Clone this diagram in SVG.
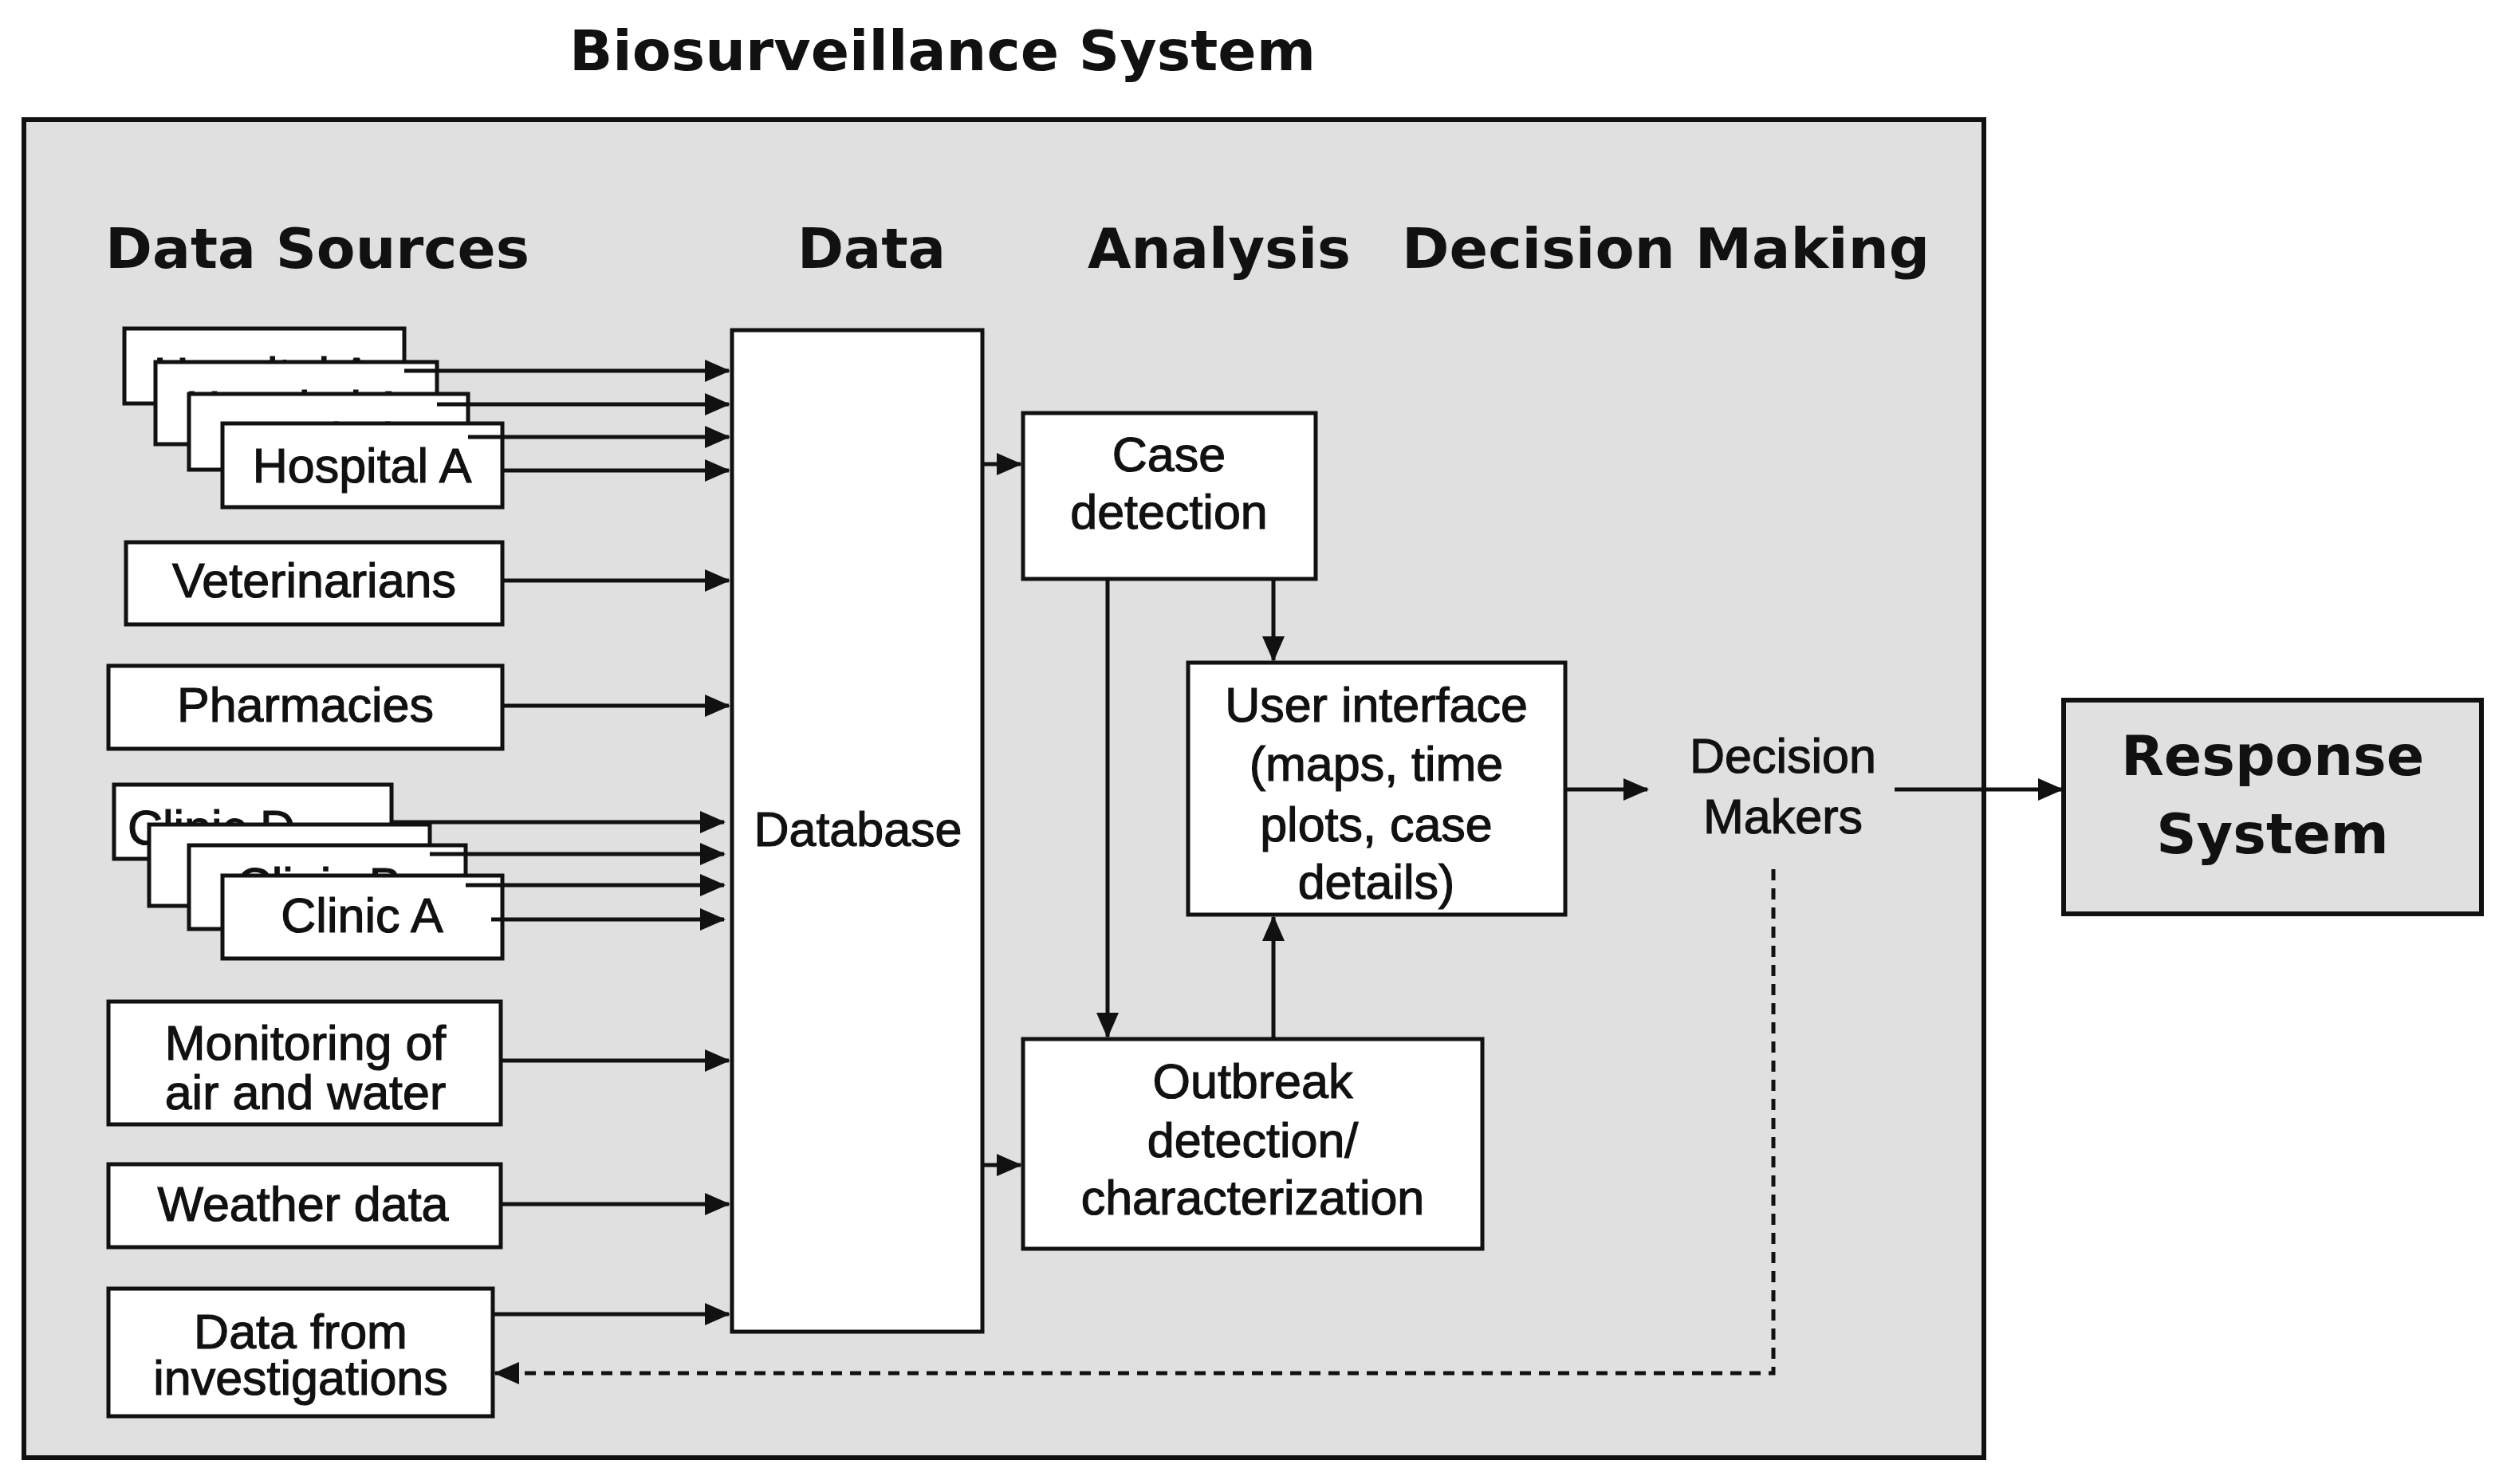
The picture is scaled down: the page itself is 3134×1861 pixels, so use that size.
<svg xmlns="http://www.w3.org/2000/svg" width="3134" height="1861" viewBox="0 0 3134 1861">
<style>
.b{fill:#fff;stroke:#111;stroke-width:5}
.t{font-family:"Liberation Sans",Arial,sans-serif;font-size:61px;fill:#111;stroke:#111;stroke-width:1.2;text-anchor:middle;dominant-baseline:central}
.h{font-family:"DejaVu Sans",Verdana,sans-serif;font-weight:bold;font-size:70px;fill:#111;dominant-baseline:central}
.c{stroke:#111;stroke-width:5;fill:none}
</style>
<defs>
<marker id="a" markerUnits="userSpaceOnUse" markerWidth="32" markerHeight="28" refX="30" refY="14" orient="auto"><path d="M0,0L32,14L0,28z" fill="#111"/></marker>
</defs>
<rect x="0" y="0" width="3134" height="1861" fill="#fff"/>
<text class="h" x="714" y="64" textLength="936" lengthAdjust="spacingAndGlyphs">Biosurveillance System</text>
<rect x="30" y="150" width="2458" height="1678" fill="#e0e0e0" stroke="#111" stroke-width="6"/>
<g id="headers">
<text class="h" x="132" y="312" textLength="532" lengthAdjust="spacingAndGlyphs">Data Sources</text>
<text class="h" x="1000" y="312" textLength="186" lengthAdjust="spacingAndGlyphs">Data</text>
<text class="h" x="1364" y="312" textLength="330" lengthAdjust="spacingAndGlyphs">Analysis</text>
<text class="h" x="1758" y="312" textLength="662" lengthAdjust="spacingAndGlyphs">Decision Making</text>
</g>
<g id="hospitals">
<rect class="b" x="156" y="412" width="351" height="94"/><text class="t" x="330" y="470">Hospital A</text>
<rect class="b" x="195" y="454" width="353" height="103"/><text class="t" x="370" y="512">Hospital A</text>
<rect class="b" x="237" y="494" width="350" height="95"/><text class="t" x="410" y="552">Hospital A</text>
<rect class="b" x="279" y="531" width="351" height="105"/><text class="t" x="454" y="584">Hospital A</text>
</g>
<g id="veterinarians"><rect class="b" x="158" y="680" width="472" height="103"/><text class="t" x="394" y="728">Veterinarians</text></g>
<g id="pharmacies"><rect class="b" x="136" y="835" width="494" height="104"/><text class="t" x="383" y="884">Pharmacies</text></g>
<g id="clinics">
<rect class="b" x="143" y="984" width="348" height="93"/><text class="t" x="265" y="1038">Clinic D</text>
<rect class="b" x="187" y="1034" width="352" height="102"/><text class="t" x="340" y="1082">Clinic C</text>
<rect class="b" x="237" y="1060" width="347" height="105"/><text class="t" x="400" y="1110">Clinic B</text>
<rect class="b" x="279" y="1098" width="351" height="104"/><text class="t" x="454" y="1148">Clinic A</text>
</g>
<g id="monitoring"><rect class="b" x="136" y="1256" width="492" height="154"/><text class="t" x="383" y="1308">Monitoring of</text><text class="t" x="383" y="1370">air and water</text></g>
<g id="weather"><rect class="b" x="136" y="1460" width="492" height="104"/><text class="t" x="380" y="1510">Weather data</text></g>
<g id="investigations"><rect class="b" x="136" y="1616" width="482" height="160"/><text class="t" x="377" y="1670">Data from</text><text class="t" x="377" y="1728">investigations</text></g>
<g id="database"><rect class="b" x="918" y="414" width="314" height="1256"/><text class="t" x="1076" y="1040">Database</text></g>
<g id="case"><rect class="b" x="1283" y="518" width="367" height="208"/><text class="t" x="1466" y="570">Case</text><text class="t" x="1466" y="642">detection</text></g>
<g id="ui"><rect class="b" x="1490" y="831" width="473" height="316"/><text class="t" x="1726" y="884">User interface</text><text class="t" x="1726" y="958">(maps, time</text><text class="t" x="1726" y="1034">plots, case</text><text class="t" x="1726" y="1106">details)</text></g>
<g id="outbreak"><rect class="b" x="1283" y="1303" width="576" height="263"/><text class="t" x="1571" y="1356">Outbreak</text><text class="t" x="1571" y="1430">detection/</text><text class="t" x="1571" y="1502">characterization</text></g>
<g id="decision"><text class="t" x="2236" y="948">Decision</text><text class="t" x="2236" y="1024">Makers</text></g>
<g id="response"><rect x="2588" y="878" width="524" height="268" fill="#e0e0e0" stroke="#111" stroke-width="6"/>
<text class="h" x="2850" y="948" text-anchor="middle" font-size="72">Response</text><text class="h" x="2850" y="1046" text-anchor="middle" font-size="72">System</text></g>
<g id="connectors" class="c">
<path class="c" marker-end="url(#a)" d="M507,465H914"/>
<path class="c" marker-end="url(#a)" d="M548,507H914"/>
<path class="c" marker-end="url(#a)" d="M587,548H914"/>
<path class="c" marker-end="url(#a)" d="M630,590H914"/>
<path class="c" marker-end="url(#a)" d="M630,728H914"/>
<path class="c" marker-end="url(#a)" d="M630,885H914"/>
<path class="c" marker-end="url(#a)" d="M491,1031H908"/>
<path class="c" marker-end="url(#a)" d="M539,1071H908"/>
<path class="c" marker-end="url(#a)" d="M584,1110H908"/>
<path class="c" marker-end="url(#a)" d="M616,1153H908"/>
<path class="c" marker-end="url(#a)" d="M628,1330H914"/>
<path class="c" marker-end="url(#a)" d="M628,1510H914"/>
<path class="c" marker-end="url(#a)" d="M618,1648H914"/>
<path class="c" marker-end="url(#a)" d="M1232,582H1280"/>
<path class="c" marker-end="url(#a)" d="M1232,1461H1280"/>
<path class="c" marker-end="url(#a)" d="M1389,726V1300"/>
<path class="c" marker-end="url(#a)" d="M1597,726V828"/>
<path class="c" marker-end="url(#a)" d="M1597,1303V1150"/>
<path class="c" marker-end="url(#a)" d="M1963,990H2066"/>
<path class="c" marker-end="url(#a)" d="M2376,990H2586"/>
<path class="c" marker-end="url(#a)" stroke-dasharray="14,10" d="M2224,1090V1722H621"/>
</g>
</svg>
